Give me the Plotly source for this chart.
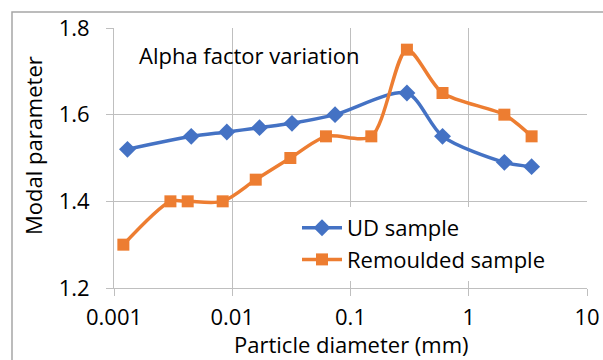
import plotly.graph_objects as go

# Data
ud_x = [0.0013, 0.0045, 0.009, 0.017, 0.032, 0.074, 0.3, 0.6, 2.0, 3.4]
ud_y = [1.52, 1.55, 1.56, 1.57, 1.58, 1.60, 1.65, 1.55, 1.49, 1.48]
rm_x = [0.0012, 0.003, 0.0042, 0.0083, 0.0158, 0.031, 0.062, 0.15, 0.3, 0.6, 2.0, 3.4]
rm_y = [1.30, 1.40, 1.40, 1.40, 1.45, 1.50, 1.55, 1.55, 1.75, 1.65, 1.60, 1.55]
x_tickvals = [0.001, 0.01, 0.1, 1, 10]
x_ticktext = ["0.001", "0.01", "0.1", "1", "10"]
y_tickvals = [1.2, 1.4, 1.6, 1.8]

FONT = "Open Sans"
FS = 22
W, H = 603, 360
L, R, T, B = 114, 16, 28, 72
pw, ph = W - L - R, H - T - B


def px_to_paper(x, y):
    return (x - L) / pw, (H - B - y) / ph


fig = go.Figure()
fig.add_trace(go.Scatter(
    x=ud_x, y=ud_y, name="UD sample", mode="lines+markers",
    line=dict(color="#4472C4", width=3.5, shape="spline", smoothing=0.8),
    marker=dict(symbol="diamond", size=13, color="#4472C4"),
))
fig.add_trace(go.Scatter(
    x=rm_x, y=rm_y, name="Remoulded sample", mode="lines+markers",
    line=dict(color="#ED7D31", width=3.5, shape="spline", smoothing=0.8),
    marker=dict(symbol="square", size=12, color="#ED7D31"),
))

grid = "#BFBFBF"
fig.update_xaxes(
    type="log", range=[-3, 1], tickvals=x_tickvals, ticktext=x_ticktext,
    showgrid=True, gridcolor=grid, gridwidth=1,
    showline=True, linecolor=grid, linewidth=1,
    ticks="outside", ticklen=7, tickcolor=grid, ticklabelstandoff=3,
    tickfont=dict(family=FONT, size=FS, color="#000"),
    zeroline=False, automargin=False,
)
fig.update_yaxes(
    range=[1.2, 1.8], tickvals=y_tickvals, tickformat=".1f",
    showgrid=True, gridcolor=grid, gridwidth=1,
    showline=True, linecolor=grid, linewidth=1,
    ticks="outside", ticklen=7, tickcolor=grid, ticklabelstandoff=12,
    tickfont=dict(family=FONT, size=FS, color="#000"),
    zeroline=False, automargin=False,
)

lx, ly = px_to_paper(297, 207)
tx, ty = px_to_paper(137, 55)
yx, yy = px_to_paper(33, 146)
xx, xy = px_to_paper(351, 344)
bx0, by0 = px_to_paper(12, 12)
bx1, by1 = px_to_paper(640, 420)

fig.update_layout(
    width=W, height=H,
    margin=dict(l=L, r=R, t=T, b=B, autoexpand=False),
    paper_bgcolor="white", plot_bgcolor="white",
    font=dict(family=FONT, size=FS, color="#000"),
    showlegend=True,
    legend=dict(x=lx, y=ly, xanchor="left", yanchor="top",
                bgcolor="white", borderwidth=0,
                font=dict(family=FONT, size=FS, color="#000"),
                tracegroupgap=0, itemwidth=40),
    annotations=[
        dict(text="Alpha factor variation", x=tx, y=ty, xref="paper", yref="paper",
             xanchor="left", yanchor="middle", showarrow=False,
             font=dict(family=FONT, size=FS, color="#000")),
        dict(text="Modal parameter", x=yx, y=yy, xref="paper", yref="paper",
             xanchor="center", yanchor="middle", showarrow=False, textangle=-90,
             font=dict(family=FONT, size=FS, color="#000")),
        dict(text="Particle diameter (mm)", x=xx, y=xy, xref="paper", yref="paper",
             xanchor="center", yanchor="middle", showarrow=False,
             font=dict(family=FONT, size=FS, color="#000")),
    ],
    shapes=[
        dict(type="rect", xref="paper", yref="paper", x0=bx0, y0=by1, x1=bx1, y1=by0,
             line=dict(color="#A6A6A6", width=1.5), layer="below"),
    ],
)

fig.write_html("out.html")
